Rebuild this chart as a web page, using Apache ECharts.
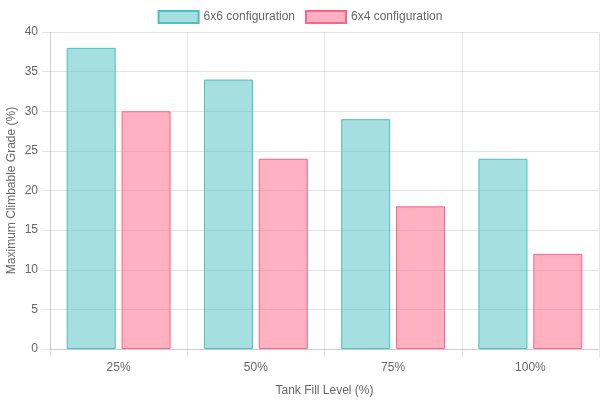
<html>
<head>
    <meta http-equiv="Content-Type" content="text/html; charset=utf-8">
    <title>echarts</title>
    <style>body{margin:0;}</style>
</head>
<body>
<div id="main" style="width:600px;height:400px;"></div>
<script type="text/javascript" src="https://cdn.jsdelivr.net/npm/echarts@6/dist/echarts.min.js"></script>
<script type="text/javascript">
var categories = ["25%", "50%", "75%", "100%"];
var config6x6 = [38, 34, 29, 24];
var config6x4 = [30, 24, 18, 12];
var yTicks = [0, 5, 10, 15, 20, 25, 30, 35, 40];

var myChart = echarts.init(document.getElementById("main"));
var font = "Liberation Sans, Arial, sans-serif";
var gridColor = "rgba(0,0,0,0.1)";

var option = {
    animation: false,
    textStyle: {fontFamily: font},
    legend: {
        top: 5,
        left: "center",
        icon: "rect",
        itemWidth: 40,
        itemHeight: 12,
        itemGap: 10,
        textStyle: {color: "#666", fontSize: 12, fontFamily: font},
        data: ["6x6 configuration", "6x4 configuration"]
    },
    grid: {left: 50, right: 1, top: 32, bottom: 51, containLabel: false, outerBoundsMode: "none"},
    xAxis: {
        type: "category",
        data: categories,
        name: "Tank Fill Level (%)",
        nameLocation: "middle",
        nameGap: 36,
        nameMoveOverlap: false,
        nameTextStyle: {color: "#666", fontSize: 12},
        axisLine: {lineStyle: {color: gridColor}},
        axisTick: {show: true, length: 8, lineStyle: {color: gridColor}},
        axisLabel: {color: "#666", fontSize: 12, margin: 13},
        splitLine: {show: true, lineStyle: {color: gridColor}}
    },
    yAxis: {
        type: "value",
        min: yTicks[0],
        max: yTicks[yTicks.length - 1],
        interval: 5,
        name: "Maximum Climbable Grade (%)",
        nameLocation: "middle",
        nameGap: 32,
        nameMoveOverlap: false,
        nameTextStyle: {color: "#666", fontSize: 12},
        axisLine: {show: true, lineStyle: {color: gridColor}},
        axisTick: {show: true, length: 8, lineStyle: {color: gridColor}},
        axisLabel: {color: "#666", fontSize: 12, margin: 12},
        splitLine: {show: true, lineStyle: {color: gridColor}}
    },
    series: [{
        name: "6x6 configuration",
        type: "bar",
        barWidth: 49,
        barGap: "12%",
        itemStyle: {color: "rgba(75,192,192,0.5)", borderColor: "rgb(75,192,192)", borderWidth: 1},
        data: config6x6
    }, {
        name: "6x4 configuration",
        type: "bar",
        barWidth: 49,
        barGap: "12%",
        itemStyle: {color: "rgba(255,99,132,0.5)", borderColor: "rgb(255,99,132)", borderWidth: 1},
        data: config6x4
    }]
};
myChart.setOption(option);
</script>
</body>
</html>
